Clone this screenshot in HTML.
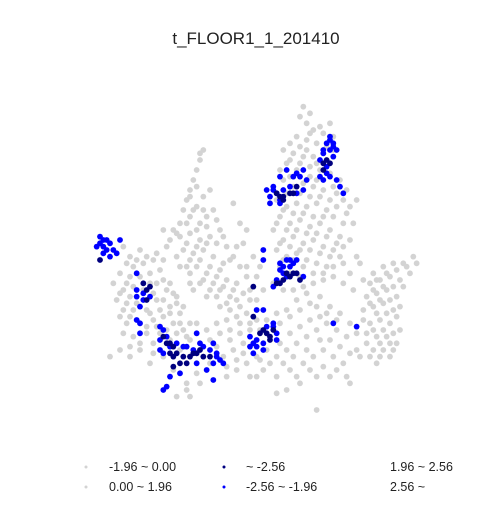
<!DOCTYPE html>
<html><head><meta charset="utf-8"><style>
body{margin:0;background:#fff;width:500px;height:500px;overflow:hidden}
svg{font-family:"Liberation Sans","DejaVu Sans",sans-serif}
</style></head><body>
<svg id="chart" width="500" height="500">
<text x="256" y="44" text-anchor="middle" font-size="17" fill="#222">t_FLOOR1_1_201410</text>
<g id="pts"></g>
<g font-size="12.5" fill="#222">
<circle cx="86" cy="467" r="1.5" fill="#d3d3d3"/>
<text x="109" y="471">-1.96 ~ 0.00</text>
<circle cx="86" cy="487" r="1.5" fill="#d3d3d3"/>
<text x="109" y="491">0.00 ~ 1.96</text>
<circle cx="224" cy="467" r="1.5" fill="#00007f"/>
<text x="246" y="471">~ -2.56</text>
<circle cx="224" cy="487" r="1.5" fill="#0000ff"/>
<text x="246" y="491">-2.56 ~ -1.96</text>
<text x="390" y="471">1.96 ~ 2.56</text>
<text x="390" y="491">2.56 ~</text>
</g>
</svg>
<script>
const grayPts=[[64,5],[66,7],[65,10],[67,12],[62,14],[65,15],[68,16],[70,13],[72,10],[73,14],[60,16],[58,18],[61,19],[64,20],[67,20],[70,19],[73,18],[59,22],[62,24],[66,23],[69,24],[72,25],[75,27],[58,27],[61,29],[64,28],[67,29],[70,30],[74,31],[77,30],[80,33],[56,33],[59,35],[62,34],[65,35],[68,34],[71,36],[74,35],[77,37],[79,40],[57,38],[60,40],[63,39],[66,41],[69,40],[72,42],[75,44],[55,42],[58,45],[61,44],[64,46],[67,45],[70,47],[73,48],[76,47],[78,45],[80,50],[56,48],[59,50],[62,49],[65,51],[68,52],[71,53],[57,53],[60,55],[63,56],[55,58],[58,60],[61,60],[64,59],[67,58],[70,57],[73,56],[76,58],[79,60],[82,57],
[63,8],[66,13],[69,11],[71,17],[63,17],[60,21],[65,18],[68,22],[63,22],[57,24],[60,26],[66,26],[68,27],[73,29],[76,33],[78,35],[59,31],[63,31],[66,32],[69,32],[72,33],[58,36],[61,37],[64,37],[67,38],[70,38],[73,38],[76,40],[56,40],[59,42],[62,42],[65,43],[68,43],[71,44],[74,46],[57,46],[60,47],[63,48],[66,48],[69,49],[72,50],[75,50],[58,51],[61,51],[64,53],[67,55],[70,55],[73,53],[76,52],[78,55],[81,52],
[34,18],[33,21],[32,24],[31,27],[30,30],[29,33],[28,36],[30,38],[32,35],[34,32],[36,30],[33,40],[35,38],[37,36],[27,40],[25,42],[22,42],[24,45],[27,44],[30,43],[33,45],[36,44],[39,42],[41,47],[43,50],[40,52],[37,50],[34,48],[31,49],[28,48],[26,50],[29,53],[32,53],[35,55],[38,56],[41,57],[44,58],[47,56],[45,53],[42,62],[39,60],[36,60],[33,58],[30,58],[43,34],[46,46],[49,50],[51,53],[48,60],[45,65],[42,66],[39,65],[47,42],
[33,19],[32,29],[30,32],[31,36],[34,36],[29,40],[32,42],[35,41],[38,39],[26,43],[23,47],[29,46],[32,47],[35,46],[38,46],[40,44],[42,51],[39,54],[36,53],[33,51],[30,51],[27,53],[30,55],[34,57],[37,58],[40,59],[43,60],[46,61],[44,63],[41,64],[38,62],[35,62],[31,60],[50,56],[47,53],[44,47],[45,40],[48,63],[52,60],[50,63],
[10,47],[12,50],[15,48],[13,53],[16,52],[19,51],[9,55],[12,56],[15,56],[18,55],[21,54],[7,58],[10,60],[13,59],[16,60],[20,58],[23,60],[26,62],[8,63],[11,64],[14,64],[17,66],[20,63],[24,65],[27,67],[9,68],[12,68],[15,70],[19,69],[22,68],[25,70],[28,72],[10,73],[13,74],[17,73],[21,73],[24,75],[30,75],[6,80],[9,78],[12,80],[15,78],[18,82],[22,80],[27,78],
[11,52],[14,51],[17,50],[20,49],[22,51],[11,58],[18,58],[22,57],[24,58],[25,61],[9,61],[12,62],[19,61],[22,63],[26,64],[28,65],[10,66],[13,66],[18,67],[21,66],[24,67],[27,70],[30,70],[11,70],[17,71],[20,71],[23,72],[26,73],[29,74],[12,77],[15,76],[19,76],[19,79],
[30,80],[33,78],[36,75],[39,73],[42,72],[45,70],[48,70],[51,72],[54,74],[57,70],[60,68],[63,66],[66,64],[69,62],[72,65],[75,67],[36,82],[40,80],[43,78],[46,76],[44,84],[41,86],[47,82],[50,80],[53,78],[56,80],[59,78],[62,76],[65,74],[68,72],[71,70],[74,72],[77,74],[29,88],[26,92],[30,92],[25,84],[32,85],[52,84],[56,86],[60,84],[64,82],[67,80],[70,78],[73,80],[76,82],[59,90],[63,88],[68,86],[72,86],[78,88],[68,96],[56,91],[48,86],
[32,70],[35,72],[38,70],[41,69],[44,68],[47,67],[50,69],[53,69],[56,67],[59,66],[62,63],[65,61],[68,65],[71,67],[74,69],[42,75],[45,73],[48,72],[34,80],[38,77],[41,83],[44,81],[46,79],[57,76],[60,73],[63,71],[66,69],[69,68],[72,75],[75,77],[78,79],[58,82],[61,80],[65,78],[69,75],[62,86],[66,84],[70,83],[74,84],[77,86],[29,90],[33,88],[51,81],[54,82],[50,86],[81,80],[83,76],
[85,55],[88,53],[91,52],[94,52],[97,50],[84,58],[87,57],[90,56],[93,57],[96,55],[83,62],[86,61],[89,60],[92,62],[82,66],[85,65],[88,64],[91,66],[84,70],[87,69],[90,70],[93,72],[83,73],[86,74],[89,74],[92,76],[85,78],[88,78],[91,78],[86,82],[80,78],[78,70],[80,73],
[86,57],[89,55],[92,54],[95,53],[98,52],[85,60],[88,59],[91,59],[94,59],[84,64],[87,63],[90,63],[93,65],[86,67],[89,67],[92,68],[85,72],[88,72],[91,73],[87,76],[90,76],[84,80],[87,80],[90,80],[82,69]];
const bluePts=[[3,44],[5,45],[4,47],[6,46],[2,47],[5,48],[7,48],[4,49],[6,50],[8,49],[9,45],[4,45],[3,46],
[72,14],[71,16],[73,17],[72,18],[74,18],[70,18],[73,20],[70,19],[69,21],[71,23],[69,26],[72,26],[74,27],[70,27],[75,29],[76,31],[72,15],[73,16],[71,25],
[53,30],[55,29],[56,31],[54,32],[59,24],[61,26],[63,26],[64,24],[57,26],[58,30],[60,29],[62,31],[65,27],[64,30],[54,34],[57,33],[55,30],[57,34],[62,25],
[57,52],[58,53],[59,51],[60,53],[61,52],[58,55],[59,56],[56,57],[52,48],[52,51],[55,59],[62,51],[64,56],[50,66],[52,66],[60,51],[57,54],
[14,55],[14,60],[16,61],[14,62],[16,63],[18,62],[15,65],[14,69],[15,70],[15,73],
[21,71],[22,72],[21,75],[23,74],[24,77],[21,78],[22,79],[26,76],[28,77],[29,77],[31,78],[32,73],[33,76],[34,77],[36,78],[37,76],[38,79],[39,81],[40,82],[37,82],[35,84],[32,82],[27,85],[24,86],[23,89],[22,90],[37,87],[38,80],
[48,74],[49,76],[50,75],[48,77],[50,77],[52,76],[53,71],[55,71],[56,73],[52,78],[49,79],[55,70],[56,75],
[73,70],[80,71]];
const navyPts=[[3,51],[71,21],[72,22],[70,22],[70,24],
[56,31],[57,32],[58,32],[60,31],[61,31],[62,29],[58,33],
[57,58],[58,57],[59,55],[60,56],[61,55],[62,55],[56,58],[49,59],[49,68],[63,57],
[16,58],[17,60],[17,63],[18,59],
[22,74],[23,76],[25,77],[24,79],[26,79],[28,80],[25,80],[27,82],[29,82],[30,80],[32,79],[33,78],[34,80],[36,80],[25,83],[31,79],[24,76],
[51,73],[52,72],[53,73],[54,74],[55,72],[54,75]];
const xs=v=>90+v*3.333, ys=v=>90+v*3.333;
const g=document.getElementById('pts');
function draw(arr,color,name){
  arr.forEach(p=>{
    const c=document.createElementNS('http://www.w3.org/2000/svg','circle');
    c.setAttribute('cx',xs(p[0]));c.setAttribute('cy',ys(p[1]));
    c.setAttribute('r',2.9);c.setAttribute('fill',color);
    
    
    g.appendChild(c);
  });
}
draw(grayPts,'#d3d3d3','gray-point');
draw(bluePts,'#0000ff','blue-point');
draw(navyPts,'#00007f','navy-point');
</script>
</body></html>
